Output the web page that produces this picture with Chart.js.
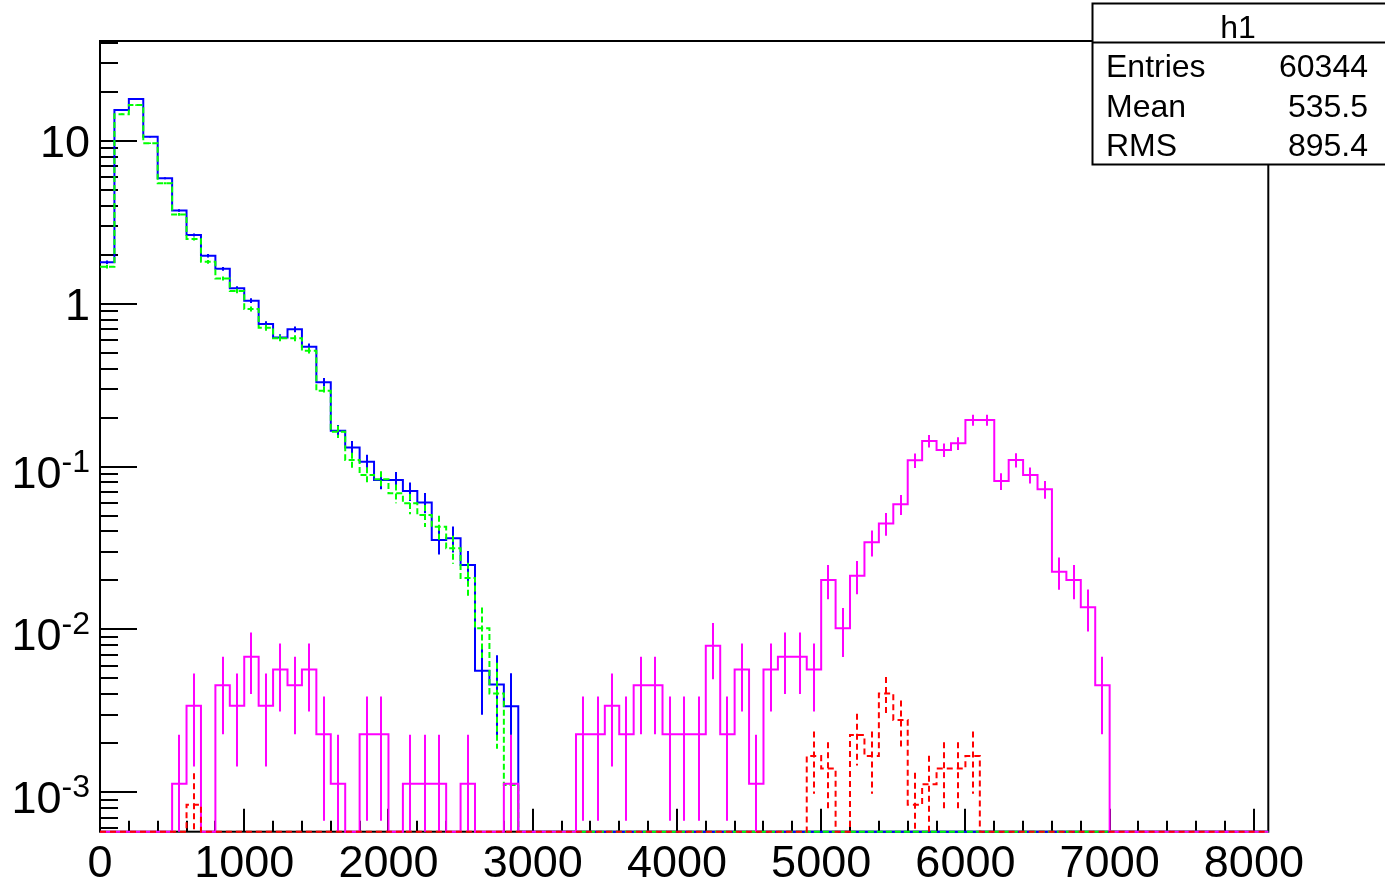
<!DOCTYPE html>
<html>
<head>
<meta charset="utf-8">
<style>
html,body{margin:0;padding:0;background:#fff;}
#wrap{width:1385px;height:884px;position:relative;}
</style>
<script src="https://cdn.jsdelivr.net/npm/chart.js@4/dist/chart.umd.min.js"></script>
</head>
<body>
<div id="wrap"><canvas id="c" width="1385" height="884"></canvas></div>
<script>
// ---- axis ranges ----
const X_MIN = 0, X_MAX = 8100;
const Y_MIN = 5.73e-4, Y_MAX = 41.1;
const BIN_WIDTH = 100;

// bin low edges (81 bins, 0 .. 8000)
const binLowEdges = [
  0,100,200,300,400,500,600,700,800,900,
  1000,1100,1200,1300,1400,1500,1600,1700,1800,1900,
  2000,2100,2200,2300,2400,2500,2600,2700,2800,2900,
  3000,3100,3200,3300,3400,3500,3600,3700,3800,3900,
  4000,4100,4200,4300,4400,4500,4600,4700,4800,4900,
  5000,5100,5200,5300,5400,5500,5600,5700,5800,5900,
  6000,6100,6200,6300,6400,6500,6600,6700,6800,6900,
  7000,7100,7200,7300,7400,7500,7600,7700,7800,7900,
  8000
];

const xTickLabels = ['0','1000','2000','3000','4000','5000','6000','7000','8000'];
const xTickValues = [0,1000,2000,3000,4000,5000,6000,7000,8000];
const yDecadeExponents = [-3,-2,-1,0,1];

// ---- series (blue, solid) ----
const blueValues = [
  1.80,15.5,18.1,10.6,5.90,3.74,2.65,1.97,1.64,1.245,
  1.045,0.751,0.622,0.697,0.545,0.330,0.166,0.131,0.107,0.0827,
  0.0827,0.0708,0.0603,0.0354,0.0363,0.0249,0.00557,0.00460,0.00338,0,
  0,0,0,0,0,0,0,0,0,0,
  0,0,0,0,0,0,0,0,0,0,
  0,0,0,0,0,0,0,0,0,0,
  0,0,0,0,0,0,0,0,0,0,
  0,0,0,0,0,0,0,0,0,0,
  0
];
const blueErrors = [
  0.0465,0.136,0.147,0.113,0.0841,0.0670,0.0564,0.0486,0.0444,0.0387,
  0.0354,0.0300,0.0273,0.0289,0.0256,0.0199,0.0141,0.0125,0.0113,0.00996,
  0.00996,0.00922,0.00851,0.00652,0.00660,0.00547,0.00258,0.00235,0.00201,0,
  0,0,0,0,0,0,0,0,0,0,
  0,0,0,0,0,0,0,0,0,0,
  0,0,0,0,0,0,0,0,0,0,
  0,0,0,0,0,0,0,0,0,0,
  0,0,0,0,0,0,0,0,0,0,
  0
];

// ---- series (green, dashed) ----
const greenValues = [
  1.69,14.6,16.6,9.68,5.50,3.54,2.50,1.81,1.43,1.20,
  0.929,0.713,0.614,0.614,0.515,0.292,0.164,0.110,0.0888,0.0836,
  0.0686,0.0595,0.0504,0.0427,0.0315,0.0207,0.01016,0.00405,0.00111,0,
  0,0,0,0,0,0,0,0,0,0,
  0,0,0,0,0,0,0,0,0,0,
  0,0,0,0,0,0,0,0,0,0,
  0,0,0,0,0,0,0,0,0,0,
  0,0,0,0,0,0,0,0,0,0,
  0
];
const greenErrors = [
  0.0450,0.132,0.141,0.108,0.0812,0.0652,0.0548,0.0466,0.0414,0.0379,
  0.0334,0.0293,0.0271,0.0271,0.0249,0.0187,0.0140,0.0115,0.0103,0.0100,
  0.00907,0.00845,0.00778,0.00716,0.00615,0.00498,0.00349,0.00220,0.00115,0,
  0,0,0,0,0,0,0,0,0,0,
  0,0,0,0,0,0,0,0,0,0,
  0,0,0,0,0,0,0,0,0,0,
  0,0,0,0,0,0,0,0,0,0,
  0,0,0,0,0,0,0,0,0,0,
  0
];

// ---- series (magenta, solid) ----
const magentaValues = [
  0,0,0,0,0,0.00113,0.0034,0,0.00454,0.0034,
  0.0068,0.0034,0.00567,0.00454,0.00567,0.00227,0.00113,0,0.00227,0.00227,
  0,0.00113,0.00113,0.00113,0,0.00113,0,0,0.00113,0,
  0,0,0,0.00227,0.00227,0.0034,0.00227,0.00454,0.00454,0.00227,
  0.00227,0.00227,0.00794,0.00227,0.00567,0.00113,0.00567,0.0068,0.0068,0.00567,
  0.0201,0.01016,0.0214,0.0343,0.0448,0.0587,0.1093,0.1437,0.1265,0.1390,
  0.1933,0.1933,0.0815,0.1098,0.0888,0.0726,0.0226,0.0201,0.01367,0.00454,
  0,0,0,0,0,0,0,0,0,0,
  0
];
const magentaErrors = [
  0,0,0,0,0,0.00113,0.00196,0,0.00227,0.00196,
  0.00278,0.00196,0.00254,0.00227,0.00254,0.0016,0.00113,0,0.0016,0.0016,
  0,0.00113,0.00113,0.00113,0,0.00113,0,0,0.00113,0,
  0,0,0,0.0016,0.0016,0.00196,0.0016,0.00227,0.00227,0.0016,
  0.0016,0.0016,0.003,0.0016,0.00254,0.00113,0.00254,0.00278,0.00278,0.00254,
  0.00477,0.00339,0.00493,0.00624,0.00713,0.00816,0.01113,0.01277,0.01198,0.01256,
  0.01481,0.01481,0.00961,0.01116,0.01003,0.00907,0.00506,0.00477,0.00394,0.00227,
  0,0,0,0,0,0,0,0,0,0,
  0
];

// ---- series (red, dashed) ----
const redValues = [
  0,0,0,0,0,0,0.00084,0,0,0,
  0,0,0,0,0,0,0,0,0,0,
  0,0,0,0,0,0,0,0,0,0,
  0,0,0,0,0,0,0,0,0,0,
  0,0,0,0,0,0,0,0,0,0.00167,
  0.0014,0,0.00225,0.00167,0.00405,0.00278,0.00084,0.00112,0.0014,0.0014,
  0.00167,0,0,0,0,0,0,0,0,0,
  0,0,0,0,0,0,0,0,0,0,
  0
];
const redErrors = [
  0,0,0,0,0,0,0.00047,0,0,0,
  0,0,0,0,0,0,0,0,0,0,
  0,0,0,0,0,0,0,0,0,0,
  0,0,0,0,0,0,0,0,0,0,
  0,0,0,0,0,0,0,0,0,0.00069,
  0.00063,0,0.00079,0.00069,0.00106,0.00088,0.00048,0.00056,0.00063,0.00063,
  0.00069,0,0,0,0,0,0,0,0,0,
  0,0,0,0,0,0,0,0,0,0,
  0
];

// ---- stats box ----
const statsTitle = 'h1';
const statsNames = ['Entries','Mean','RMS'];
const statsValues = ['60344','535.5','895.4'];

const FONT = "'Liberation Sans', Arial, Helvetica, sans-serif";

function stepPoints(vals){
  const pts = binLowEdges.map((e,i)=>({x:e, y: vals[i] > 0 ? vals[i] : Y_MIN}));
  pts.push({x: binLowEdges[binLowEdges.length-1] + BIN_WIDTH, y: pts[pts.length-1].y});
  return pts;
}

function histDataset(label, vals, errs, color, dash){
  return {
    label, data: stepPoints(vals), values: vals, errors: errs,
    borderColor: color, borderWidth: 2, borderDash: dash, stepped: 'before',
    pointRadius: 0, fill: false, tension: 0, clip: 3
  };
}

const errorBars = {
  id: 'errorBars',
  afterDatasetDraw(chart, args){
    const ds = chart.data.datasets[args.index];
    if (!ds.errors) return;
    const {ctx, chartArea: a} = chart;
    const x = chart.scales.x, y = chart.scales.y;
    ctx.save();
    ctx.beginPath(); ctx.rect(a.left, a.top, a.right - a.left, a.bottom - a.top + 1); ctx.clip();
    ctx.strokeStyle = ds.borderColor; ctx.lineWidth = ds.borderWidth;
    ctx.setLineDash(ds.borderDash || []);
    ds.values.forEach((v, i) => {
      if (!(v > 0)) return;
      const e = ds.errors[i];
      const px = Math.round(x.getPixelForValue(binLowEdges[i] + BIN_WIDTH/2));
      const top = y.getPixelForValue(v + e);
      const lo = v - e;
      const bot = lo > Y_MIN ? y.getPixelForValue(lo) : a.bottom;
      ctx.beginPath(); ctx.moveTo(px, top); ctx.lineTo(px, bot); ctx.stroke();
    });
    ctx.restore();
  }
};

const frameAxes = {
  id: 'frameAxes',
  beforeDatasetsDraw(chart){
    const {ctx, chartArea: a} = chart;
    const x = chart.scales.x, y = chart.scales.y;
    ctx.save();
    ctx.strokeStyle = '#000'; ctx.lineWidth = 2; ctx.setLineDash([]);
    ctx.strokeRect(a.left, a.top, a.right - a.left, a.bottom - a.top);
    ctx.beginPath();
    for (let v = 200; v < X_MAX; v += 200) {
      const px = Math.round(x.getPixelForValue(v));
      const len = (v % 1000 === 0) ? 23 : 11;
      ctx.moveTo(px, a.bottom); ctx.lineTo(px, a.bottom - len);
    }
    for (const k of [-4,-3,-2,-1,0,1]) {
      for (let m = 1; m <= 9; m++) {
        const v = m * Math.pow(10, k);
        if (v < Y_MIN || v > Y_MAX) continue;
        const py = Math.round(y.getPixelForValue(v));
        const len = (m === 1) ? 37 : 18;
        ctx.moveTo(a.left, py); ctx.lineTo(a.left + len, py);
      }
    }
    ctx.stroke();
    ctx.fillStyle = '#000';
    ctx.font = '45px ' + FONT;
    ctx.textAlign = 'center'; ctx.textBaseline = 'alphabetic';
    xTickValues.forEach((v, i) => {
      ctx.fillText(xTickLabels[i], x.getPixelForValue(v), 877);
    });
    const rightX = 90;
    yDecadeExponents.forEach(k => {
      const py = y.getPixelForValue(Math.pow(10, k));
      ctx.textAlign = 'left';
      if (k === 0 || k === 1) {
        const t = k === 0 ? '1' : '10';
        ctx.font = '45px ' + FONT;
        const w = ctx.measureText(t).width;
        ctx.fillText(t, rightX - w, py + 16);
      } else {
        const sup = String(k);
        ctx.font = '32px ' + FONT;
        const sw = ctx.measureText(sup).width;
        ctx.font = '45px ' + FONT;
        const bw = ctx.measureText('10').width;
        const base = py + 21;
        ctx.fillText('10', rightX - sw - bw, base);
        ctx.font = '32px ' + FONT;
        ctx.fillText(sup, rightX - sw, base - 16);
      }
    });
    ctx.restore();
  },
  afterDraw(chart){
    const {ctx} = chart;
    ctx.save();
    const L = 1092.5, T = 3.5, R = 1386, B = 164.5, H = 42.5;
    ctx.fillStyle = '#fff';
    ctx.fillRect(L, T, R - L, B - T);
    ctx.strokeStyle = '#000'; ctx.lineWidth = 2;
    ctx.strokeRect(L, T, R - L, B - T);
    ctx.beginPath(); ctx.moveTo(L, H); ctx.lineTo(R, H); ctx.stroke();
    ctx.fillStyle = '#000';
    ctx.font = '32px ' + FONT;
    ctx.textBaseline = 'alphabetic';
    ctx.textAlign = 'center';
    ctx.fillText(statsTitle, 1238, 38);
    const rows = [77, 117, 156];
    statsNames.forEach((n, i) => {
      ctx.textAlign = 'left'; ctx.fillText(n, 1106, rows[i]);
      ctx.textAlign = 'right'; ctx.fillText(statsValues[i], 1368, rows[i]);
    });
    ctx.restore();
  }
};

new Chart(document.getElementById('c'), {
  type: 'line',
  data: {
    datasets: [
      histDataset('red', redValues, redErrors, '#ff0000', [6,4]),
      histDataset('magenta', magentaValues, magentaErrors, '#ff00ff', []),
      histDataset('green', greenValues, greenErrors, '#00ff00', [6,3]),
      histDataset('blue', blueValues, blueErrors, '#0000ff', [])
    ]
  },
  options: {
    responsive: false, animation: false, devicePixelRatio: 1,
    parsing: true, normalized: true,
    layout: { padding: { left: 100, right: 116.7, top: 41, bottom: 52.3 } },
    scales: {
      x: { type: 'linear', min: X_MIN, max: X_MAX, display: false },
      y: { type: 'logarithmic', min: Y_MIN, max: Y_MAX, display: false }
    },
    plugins: { legend: { display: false }, tooltip: { enabled: false } },
    elements: { line: { borderCapStyle: 'butt', borderJoinStyle: 'miter' } }
  },
  plugins: [frameAxes, errorBars]
});
</script>
</body>
</html>
